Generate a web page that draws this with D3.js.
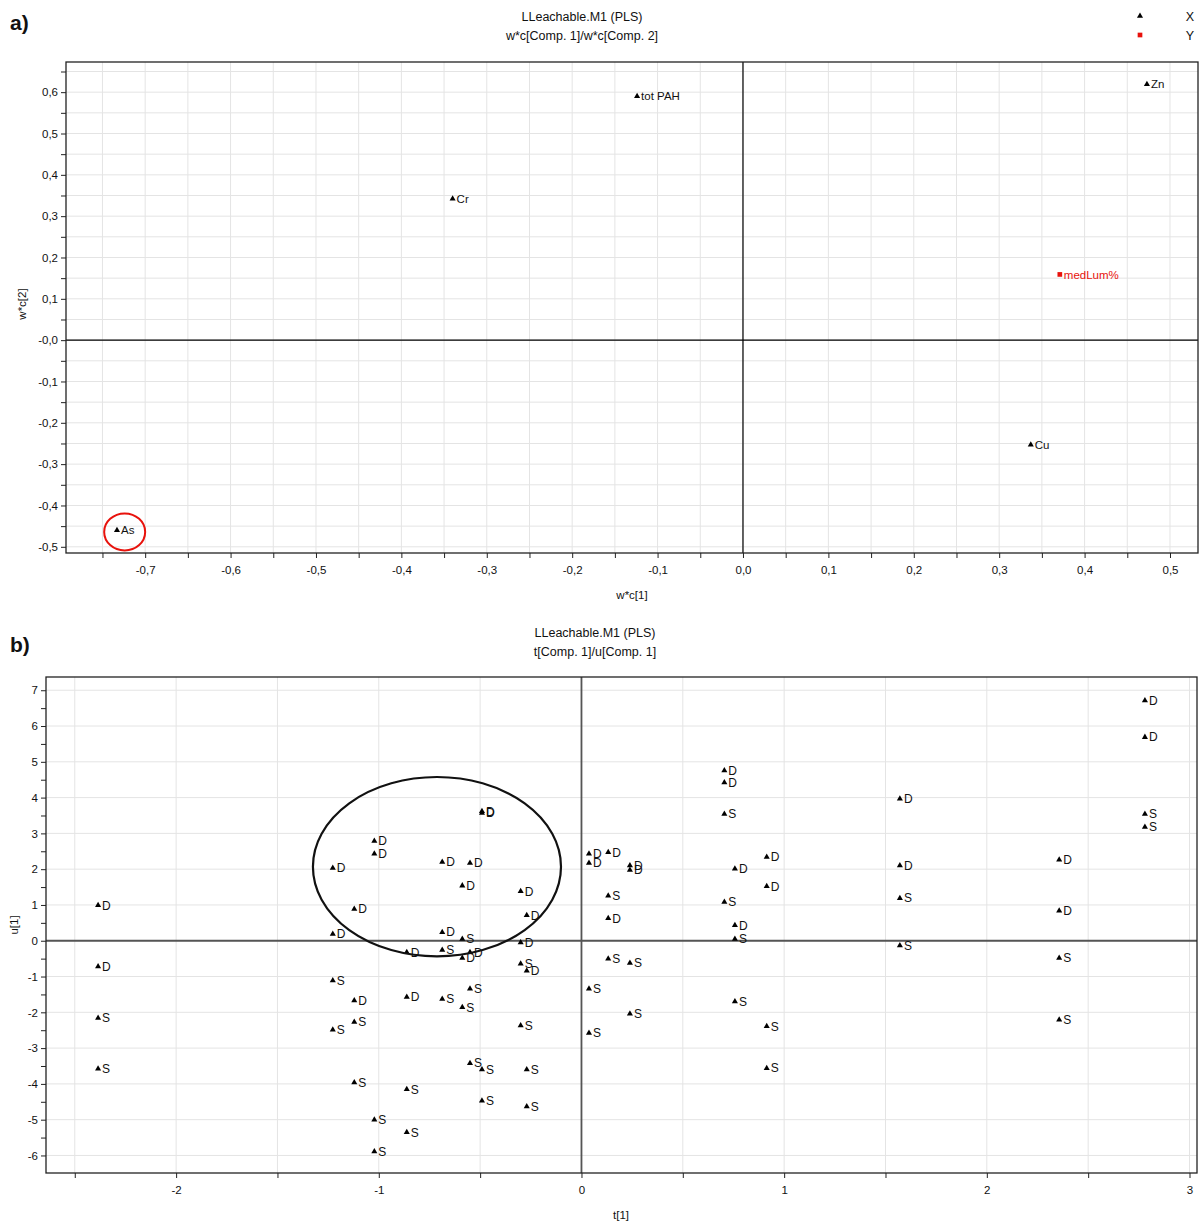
<!DOCTYPE html>
<html><head><meta charset="utf-8">
<script src="https://cdn.jsdelivr.net/npm/d3@7"></script>
<style>
body{margin:0;background:#fff}
svg{display:block}
text{font-family:"Liberation Sans",Arial,sans-serif;fill:#111}
</style>
</head><body>
<svg id="c" width="1200" height="1225"></svg>
<script>
// ---------- Panel a: loadings w*c[1] / w*c[2] ----------
const aNames = ["tot PAH", "Zn", "Cr", "medLum%", "Cu", "As"];
const aX = [-0.124, 0.473, -0.340, 0.371, 0.337, -0.733];
const aY = [0.590, 0.619, 0.342, 0.159, -0.253, -0.460];
const aType = ["X", "X", "X", "Y", "X", "X"];
const aXTicks = [-0.7, -0.6, -0.5, -0.4, -0.3, -0.2, -0.1, 0.0, 0.1, 0.2, 0.3, 0.4, 0.5];
const aYTicks = [-0.5, -0.4, -0.3, -0.2, -0.1, 0.0, 0.1, 0.2, 0.3, 0.4, 0.5, 0.6];
const aHighlight = {x: -0.724, y: -0.464, rx: 0.024, ry: 0.0447};

// ---------- Panel b: scores t[1] / u[1] ----------
const bT = [
 -2.385,-2.385,-2.385,-2.385, -1.227,-1.227,-1.227,-1.227, -1.121,-1.121,-1.121,-1.121,
 -1.022,-1.022,-1.022,-1.022, -0.862,-0.862,-0.862,-0.862, -0.687,-0.687,-0.687,-0.687,
 -0.588,-0.588,-0.588,-0.588, -0.550,-0.550,-0.550,-0.550, -0.491,-0.491,-0.491,-0.491,
 -0.300,-0.300,-0.300,-0.300, -0.270,-0.270,-0.270,-0.270, 0.037,0.037,0.037,0.037,
 0.132,0.132,0.132,0.132, 0.239,0.239,0.239,0.239, 0.705,0.705,0.705,0.705,
 0.757,0.757,0.757,0.757, 0.914,0.914,0.914,0.914, 1.571,1.571,1.571,1.571,
 2.357,2.357,2.357,2.357, 2.780,2.780,2.780,2.780];
const bU = [
 0.99,-0.72,-2.16,-3.58, 2.03,0.19,-1.11,-2.49, 0.89,-1.67,-2.27,-3.96,
 2.79,2.43,-5.00,-5.89, -0.32,-1.57,-4.15,-5.35, 2.20,0.24,-0.26,-1.63,
 1.54,0.05,-0.48,-1.86, 2.17,-0.32,-1.34,-3.42, 3.62,3.57,-3.60,-4.47,
 1.38,-0.05,-0.64,-2.37, 0.71,-0.84,-3.60,-4.63, 2.43,2.17,-1.34,-2.58,
 2.47,1.26,0.63,-0.50, 2.10,1.98,-0.62,-2.04, 4.76,4.42,3.54,1.08,
 2.01,0.43,0.05,-1.70, 2.34,1.52,-2.39,-3.56, 3.97,2.10,1.19,-0.13,
 2.26,0.84,-0.48,-2.21, 6.71,5.69,3.54,3.18];
const bLab = [
 "D","D","S","S", "D","D","S","S", "D","D","S","S",
 "D","D","S","S", "D","D","S","S", "D","D","S","S",
 "D","S","D","S", "D","D","S","S", "D","D","S","S",
 "D","D","S","S", "D","D","S","S", "D","D","S","S",
 "D","S","D","S", "D","D","S","S", "D","D","S","S",
 "D","D","S","S", "D","D","S","S", "D","D","S","S",
 "D","D","S","S", "D","D","S","S"];
const bXTicks = [-2, -1, 0, 1, 2, 3];
const bYTicks = [-6, -5, -4, -3, -2, -1, 0, 1, 2, 3, 4, 5, 6, 7];
const bHighlight = {x: -0.713, y: 2.07, rx: 0.612, ry: 2.505};

const svg = d3.select("#c");
const fmtComma = d => (d < 0 ? "-" : "") + Math.abs(d).toFixed(1).replace(".", ",");
const range = (a, b, s) => d3.range(Math.round(a / s), Math.round(b / s) + 1).map(i => +(i * s).toFixed(4));

function panel(o) {
  const g = svg.append("g");
  const x = d3.scaleLinear().domain(o.xDom).range([o.left, o.right]);
  const y = d3.scaleLinear().domain(o.yDom).range([o.bottom, o.top]);
  // grid
  g.append("g").selectAll("line").data(o.xGrid).join("line")
    .attr("x1", d => x(d)).attr("x2", d => x(d)).attr("y1", o.top).attr("y2", o.bottom)
    .attr("stroke", "#e4e4e4").attr("stroke-width", 1);
  g.append("g").selectAll("line").data(o.yGrid).join("line")
    .attr("y1", d => y(d)).attr("y2", d => y(d)).attr("x1", o.left).attr("x2", o.right)
    .attr("stroke", "#e4e4e4").attr("stroke-width", 1);
  // zero lines
  g.append("line").attr("x1", x(0)).attr("x2", x(0)).attr("y1", o.top).attr("y2", o.bottom)
    .attr("stroke", o.zeroColor).attr("stroke-width", o.zeroW);
  g.append("line").attr("y1", y(0)).attr("y2", y(0)).attr("x1", o.left).attr("x2", o.right)
    .attr("stroke", o.zeroColor).attr("stroke-width", o.zeroW);
  // frame
  g.append("rect").attr("x", o.left).attr("y", o.top).attr("width", o.right - o.left).attr("height", o.bottom - o.top)
    .attr("fill", "none").attr("stroke", "#222").attr("stroke-width", 1.3);
  // axes
  const majX = new Set(o.xTicks.map(v => v.toFixed(3)));
  const majY = new Set(o.yTicks.map(v => v.toFixed(3)));
  const ax = g.append("g").attr("transform", `translate(0,${o.bottom})`)
    .call(d3.axisBottom(x).tickValues(o.xMinor).tickSize(5).tickPadding(8)
      .tickFormat(d => majX.has(d.toFixed(3)) ? o.xFmt(d) : ""));
  const ay = g.append("g").attr("transform", `translate(${o.left},0)`)
    .call(d3.axisLeft(y).tickValues(o.yMinor).tickSize(5).tickPadding(3)
      .tickFormat(d => majY.has(d.toFixed(3)) ? o.yFmt(d) : ""));
  [ax, ay].forEach(a => {
    a.select(".domain").remove();
    a.selectAll("line").attr("stroke", "#222");
    a.selectAll("text").attr("font-size", 11.5).attr("fill", "#222")
      .attr("font-family", "'Liberation Sans',Arial,sans-serif");
  });
  // titles
  g.append("text").attr("x", o.titleX).attr("y", o.titleY).attr("text-anchor", "middle")
    .attr("font-size", 12.5).text(o.title1);
  g.append("text").attr("x", o.titleX).attr("y", o.titleY + 19).attr("text-anchor", "middle")
    .attr("font-size", 12.5).text(o.title2);
  g.append("text").attr("x", o.xLabX).attr("y", o.xLabY).attr("text-anchor", "middle")
    .attr("font-size", 11.5).text(o.xLab);
  g.append("text").attr("transform", `translate(${o.yLabX},${o.yLabY}) rotate(-90)`).attr("text-anchor", "middle")
    .attr("font-size", 11.5).text(o.yLab);
  g.append("text").attr("x", 10).attr("y", o.tagY).attr("font-size", 21).attr("font-weight", "bold")
    .attr("font-family", "'Liberation Sans Narrow','Liberation Sans',Arial,sans-serif").text(o.tag);
  return {g, x, y};
}

// ---- Panel a ----
const A = panel({
  xDom: [-0.7927, 0.5328], yDom: [-0.515, 0.673],
  left: 66, right: 1198, top: 62, bottom: 553,
  xGrid: range(-0.75, 0.5, 0.05), yGrid: range(-0.5, 0.65, 0.05),
  xMinor: range(-0.75, 0.5, 0.05), yMinor: range(-0.5, 0.65, 0.05),
  xTicks: aXTicks, yTicks: aYTicks,
  xFmt: fmtComma, yFmt: d => d === 0 ? "-0,0" : fmtComma(d),
  zeroColor: "#000", zeroW: 1.2,
  title1: "LLeachable.M1 (PLS)", title2: "w*c[Comp. 1]/w*c[Comp. 2]", titleX: 582, titleY: 21,
  xLab: "w*c[1]", xLabX: 632, xLabY: 599, yLab: "w*c[2]", yLabX: 26, yLabY: 304,
  tag: "a)", tagY: 30
});
const aData = aNames.map((n, i) => ({n, x: aX[i], y: aY[i], t: aType[i]}));
const aPts = A.g.append("g").selectAll("g").data(aData).join("g")
  .attr("transform", d => `translate(${A.x(d.x)},${A.y(d.y)})`);
aPts.append("path").attr("d", d => d.t === "X" ? d3.symbol(d3.symbolTriangle, 16)() : d3.symbol(d3.symbolSquare, 22)())
  .attr("fill", d => d.t === "X" ? "#000" : "#e8120c");
aPts.append("text").attr("x", 4).attr("dy", "0.36em").attr("font-size", 11.5)
  .attr("fill", d => d.t === "X" ? "#111" : "#e8120c").style("fill", d => d.t === "X" ? "#111" : "#e8120c")
  .text(d => d.n);
A.g.append("ellipse").attr("cx", A.x(aHighlight.x)).attr("cy", A.y(aHighlight.y))
  .attr("rx", A.x(aHighlight.rx) - A.x(0)).attr("ry", A.y(0) - A.y(aHighlight.ry))
  .attr("fill", "none").attr("stroke", "#e8120c").attr("stroke-width", 2);

// legend
const legend = svg.append("g");
legend.append("path").attr("transform", "translate(1140,16)").attr("d", d3.symbol(d3.symbolTriangle, 16)()).attr("fill", "#000");
legend.append("text").attr("x", 1190).attr("y", 21).attr("text-anchor", "middle").attr("font-size", 12.5).text("X");
legend.append("path").attr("transform", "translate(1140,35)").attr("d", d3.symbol(d3.symbolSquare, 22)()).attr("fill", "#e8120c");
legend.append("text").attr("x", 1190).attr("y", 40).attr("text-anchor", "middle").attr("font-size", 12.5).text("Y");

// ---- Panel b ----
const B = panel({
  xDom: [-2.642, 3.037], yDom: [-6.49, 7.37],
  left: 46, right: 1197, top: 677, bottom: 1173,
  xGrid: range(-2.5, 3, 0.5), yGrid: range(-6, 7, 1),
  xMinor: range(-2.5, 3, 0.5), yMinor: range(-6, 7, 0.5),
  xTicks: bXTicks, yTicks: bYTicks,
  xFmt: d => (d < 0 ? "-" : "") + Math.abs(d), yFmt: d => (d < 0 ? "-" : "") + Math.abs(d),
  zeroColor: "#555", zeroW: 1.8,
  title1: "LLeachable.M1 (PLS)", title2: "t[Comp. 1]/u[Comp. 1]", titleX: 595, titleY: 637,
  xLab: "t[1]", xLabX: 621, xLabY: 1219, yLab: "u[1]", yLabX: 18, yLabY: 925,
  tag: "b)", tagY: 652
});
const bData = bT.map((t, i) => ({t, u: bU[i], l: bLab[i]}));
const bPts = B.g.append("g").selectAll("g").data(bData).join("g")
  .attr("transform", d => `translate(${B.x(d.t)},${B.y(d.u)})`);
bPts.append("path").attr("d", d3.symbol(d3.symbolTriangle, 16)()).attr("fill", "#000");
bPts.append("text").attr("x", 4).attr("dy", "0.36em").attr("font-size", 12).text(d => d.l);
B.g.append("ellipse").attr("cx", B.x(bHighlight.x)).attr("cy", B.y(bHighlight.y))
  .attr("rx", B.x(bHighlight.rx) - B.x(0)).attr("ry", B.y(0) - B.y(bHighlight.ry))
  .attr("fill", "none").attr("stroke", "#111").attr("stroke-width", 2.2);
</script>
</body></html>
